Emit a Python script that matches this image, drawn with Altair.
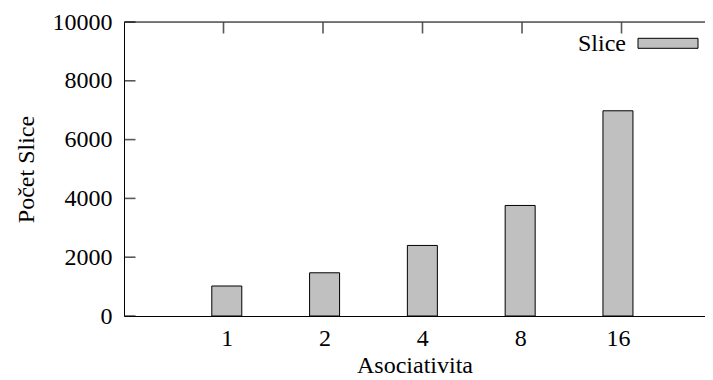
import altair as alt
import pandas as pd

categories = ["1", "2", "4", "8", "16"]
values = [1020, 1470, 2400, 3760, 6980]
y_ticks = [0, 2000, 4000, 6000, 8000, 10000]
series_name = "Slice"
x_title = "Asociativita"
y_title = "Počet Slice"

df = pd.DataFrame({"pos": list(range(len(categories))), "cat": categories, "val": values})
ticks_df = pd.DataFrame({"t": y_ticks})
one = pd.DataFrame({"a": [0]})

W = 581
H = 294
FONT = "Liberation Serif"
FS = 24
TICK = 11

X_DOMAIN = [-1, 4.839]
Y_DOMAIN = [0, 10000]


def xs():
    return alt.Scale(domain=X_DOMAIN, nice=False, zero=False)


def ys():
    return alt.Scale(domain=Y_DOMAIN, nice=False, zero=True)


label_expr = "[" + ",".join(f"'{c}'" for c in categories) + "][datum.value]"

common = dict(
    ticks=False, grid=False, domainColor="black", domainWidth=1,
    labelFont=FONT, labelFontSize=FS, labelColor="black", labelFlush=False,
    titleFont=FONT, titleFontSize=FS, titleFontWeight="normal", titleColor="black",
)
x_axis = alt.Axis(values=list(range(len(categories))), labelExpr=label_expr, title=x_title,
                  labelPadding=10, titlePadding=3, **common)
y_axis = alt.Axis(values=y_ticks, title=y_title, format="d", labelPadding=12, titlePadding=14, **common)

bars = alt.Chart(df).mark_bar(size=30, fill="#c0c0c0", stroke="black", strokeWidth=1).encode(
    x=alt.X("pos:Q", scale=xs(), axis=x_axis),
    y=alt.Y("val:Q", scale=ys(), axis=y_axis),
)

# inward ticks on the left border
left_ticks = alt.Chart(ticks_df).mark_tick(
    color="#111111", orient="horizontal", size=TICK, thickness=1.6
).encode(
    x=alt.value(TICK / 2 + 0.5),
    y=alt.Y("t:Q", scale=ys(), axis=None),
)

# inward ticks on the top border
top_ticks = alt.Chart(df).mark_tick(
    color="#111111", orient="vertical", size=TICK, thickness=1.6
).encode(
    x=alt.X("pos:Q", scale=xs(), axis=None),
    y=alt.value(TICK / 2 + 0.5),
)

top_border = alt.Chart(one).mark_rule(color="black", strokeWidth=1).encode(
    x=alt.value(0), x2=alt.value(W), y=alt.value(0),
)

legend_box = alt.Chart(one).mark_rect(fill="#c0c0c0", stroke="black", strokeWidth=1).encode(
    x=alt.value(514), x2=alt.value(574), y=alt.value(16.3), y2=alt.value(26.3),
)

legend_text = alt.Chart(one).mark_text(
    align="right", baseline="middle", font=FONT, fontSize=FS, color="black", text=series_name
).encode(x=alt.value(502), y=alt.value(21.5))

chart = alt.layer(bars, left_ticks, top_ticks, top_border, legend_box, legend_text).resolve_scale(
    x="independent", y="independent"
).resolve_axis(
    x="independent", y="independent"
).properties(
    width=W, height=H,
    autosize=alt.AutoSizeParams(type="none"),
    padding={"left": 116, "top": 14, "right": 0, "bottom": 60},
).configure_view(stroke=None).configure(background="white")

chart.save("out.html", embed_options={"renderer": "svg", "actions": False})
